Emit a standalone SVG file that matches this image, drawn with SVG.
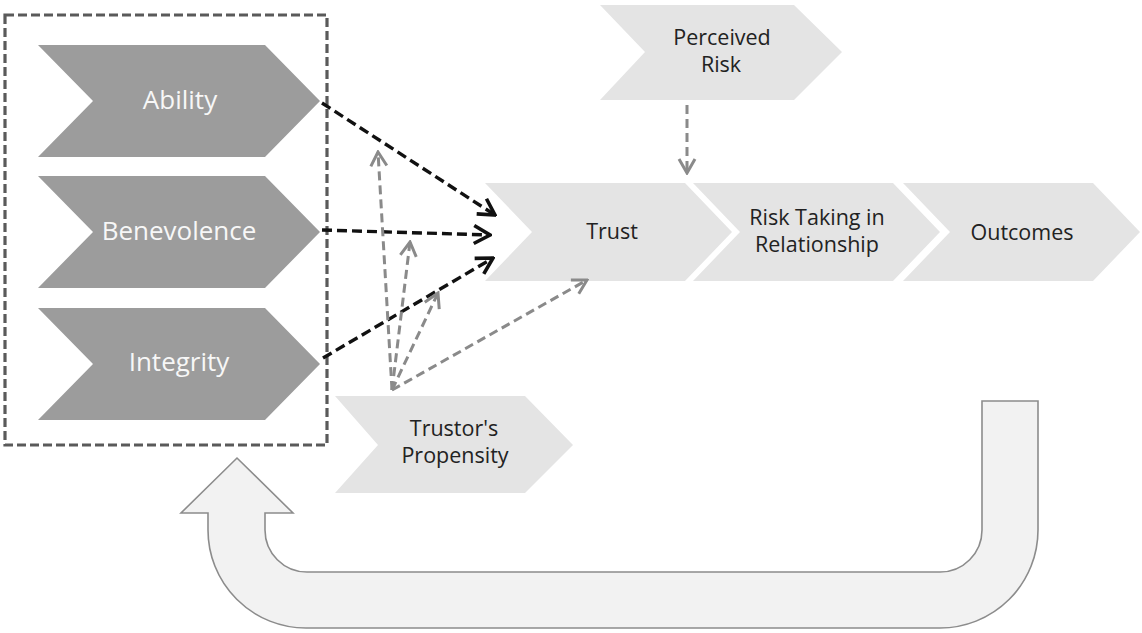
<svg xmlns="http://www.w3.org/2000/svg" width="1142" height="633" viewBox="0 0 1142 633">
  <style>
    .dark { fill: #9c9c9c; }
    .light { fill: #e4e4e4; }
    .lblW { font-family: "Open Sans", "Liberation Sans", sans-serif; font-size: 26px; fill: #f7f7f7; text-anchor: middle; }
    .lbl { font-family: "Open Sans", "Liberation Sans", sans-serif; font-size: 21.5px; fill: #222; text-anchor: middle; }
    .frame { fill: none; stroke: #5a5a5a; stroke-width: 3.2; stroke-dasharray: 9 4; }
    .blk { fill: none; stroke: #111; stroke-width: 3.4; stroke-dasharray: 10 5; }
    .gry { fill: none; stroke: #8a8a8a; stroke-width: 3; stroke-dasharray: 9 5; }
    .loop { fill: #f2f2f2; stroke: #8c8c8c; stroke-width: 1.6; }
  </style>
  <defs>
    <marker id="headBlk" markerUnits="userSpaceOnUse" viewBox="0 0 20 22" refX="18" refY="11" markerWidth="20" markerHeight="22" orient="auto">
      <path d="M2,2 L18,11 L2,20" fill="none" stroke="#111" stroke-width="3.6"/>
    </marker>
    <marker id="headGry" markerUnits="userSpaceOnUse" viewBox="0 0 18 20" refX="16" refY="10" markerWidth="18" markerHeight="20" orient="auto">
      <path d="M2,2 L16,10 L2,18" fill="none" stroke="#8a8a8a" stroke-width="3"/>
    </marker>
  </defs>

  <!-- dashed frame around the three factors -->
  <rect id="factors" class="frame" x="5" y="15" width="322" height="430"/>

  <g id="ability">
    <polygon class="dark" points="38,45 265,45 320,101 265,157 38,157 93,101"/>
    <text class="lblW" x="180" y="109">Ability</text>
  </g>
  <g id="benevolence">
    <polygon class="dark" points="38,176 265,176 320,232 265,288 38,288 93,232"/>
    <text class="lblW" x="179" y="240">Benevolence</text>
  </g>
  <g id="integrity">
    <polygon class="dark" points="38,308 265,308 320,364 265,420 38,420 93,364"/>
    <text class="lblW" x="179" y="371">Integrity</text>
  </g>

  <g id="perceived-risk">
    <polygon class="light" points="600,5 794,5 842,52 794,100 600,100 645,52"/>
    <text class="lbl" x="722" y="45">Perceived</text>
    <text class="lbl" x="721" y="72">Risk</text>
  </g>

  <g id="trust">
    <polygon class="light" points="485,183 685,183 732,232 685,281 485,281 532,232"/>
    <text class="lbl" x="612" y="239">Trust</text>
  </g>
  <g id="risk-taking">
    <polygon class="light" points="693,183 893,183 940,232 893,281 693,281 740,232"/>
    <text class="lbl" x="817" y="225">Risk Taking in</text>
    <text class="lbl" x="817" y="252">Relationship</text>
  </g>
  <g id="outcomes">
    <polygon class="light" points="903,183 1093,183 1140,232 1093,281 903,281 950,232"/>
    <text class="lbl" x="1022" y="240">Outcomes</text>
  </g>

  <g id="propensity">
    <polygon class="light" points="335,396 525,396 573,445 525,493 335,493 378,445"/>
    <text class="lbl" x="454" y="436">Trustor's</text>
    <text class="lbl" x="455" y="463">Propensity</text>
  </g>

  <!-- feedback loop from outcomes back to the factors -->
  <path id="feedback" class="loop" d="M982,401 L1038,401 L1038,530 A98,98 0 0 1 940,628 L306,628 A98,98 0 0 1 208,530 L208,513 L181,513 L237,458 L293,513 L265,513 L265,530 A42,42 0 0 0 307,572 L940,572 A42,42 0 0 0 982,530 Z"/>

  <g id="connectors">
    <line class="blk" x1="322" y1="103" x2="495" y2="215" marker-end="url(#headBlk)"/>
    <line class="blk" x1="322" y1="230" x2="490" y2="235" marker-end="url(#headBlk)"/>
    <line class="blk" x1="323" y1="358" x2="493" y2="258" marker-end="url(#headBlk)"/>
    <line class="gry" x1="392" y1="390" x2="378" y2="152" marker-end="url(#headGry)"/>
    <line class="gry" x1="392" y1="390" x2="410" y2="242" marker-end="url(#headGry)"/>
    <line class="gry" x1="392" y1="390" x2="438" y2="293" marker-end="url(#headGry)"/>
    <line class="gry" x1="392" y1="390" x2="587" y2="280" marker-end="url(#headGry)"/>
    <line class="gry" x1="687" y1="105" x2="687" y2="173" marker-end="url(#headGry)"/>
  </g>
</svg>
